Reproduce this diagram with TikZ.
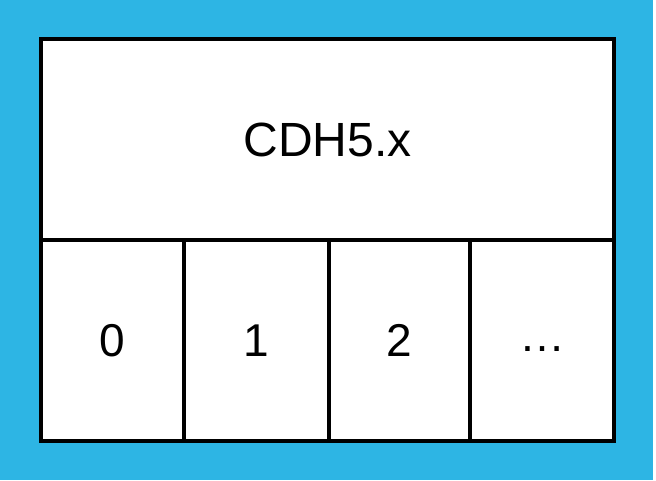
\documentclass[tikz,border=0pt]{standalone}
\usepackage{fontspec}
\setmainfont{Liberation Sans}
\usetikzlibrary{positioning}
\definecolor{skyblue}{RGB}{45,181,228}
\tikzset{
  headcell/.style={
    rectangle, draw=black, fill=white, line width=3.5pt,
    minimum width=573pt, minimum height=202pt, inner sep=0pt,
    font=\fontsize{48}{56}\selectfont,
  },
  cell/.style={
    rectangle, draw=black, fill=white, line width=3.5pt,
    minimum height=201pt, inner sep=0pt,
    font=\fontsize{46}{54}\selectfont,
  },
}
\begin{document}
\begin{tikzpicture}[x=1pt, y=-1pt]

  % background
  \useasboundingbox (0,0) rectangle (656,480);
  \fill[skyblue] (0,0) rectangle (653,480);

  % header field
  \node[headcell] (head) at (327.5, 140) {CDH5.x};

  % sub-fields
  \node[cell, minimum width=143pt] (c0) at (112.5, 340.5) {0};
  \node[cell, minimum width=145pt] (c1) at (256.5, 340.5) {1};
  \node[cell, minimum width=141pt] (c2) at (399.5, 340.5) {2};
  \node[cell, minimum width=144pt] (c3) at (542.0, 340.5) {\strut …};

\end{tikzpicture}
\end{document}
